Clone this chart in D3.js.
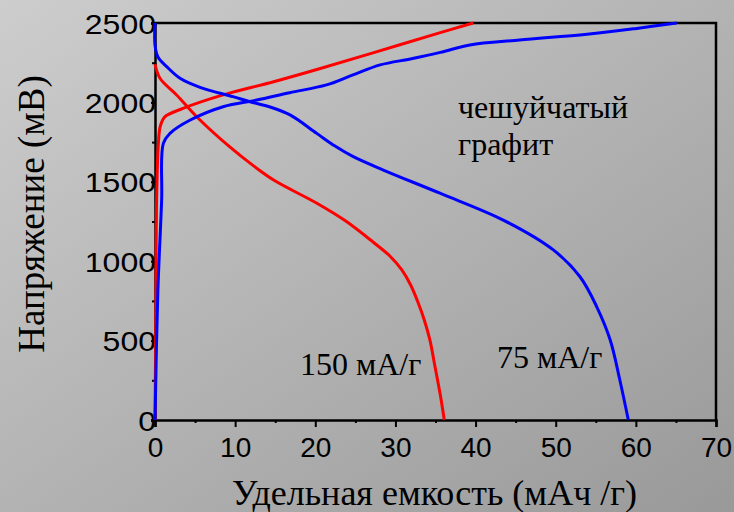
<!DOCTYPE html>
<html lang="ru">
 <head>
  <title>Удельная емкость - чешуйчатый графит</title>
<meta charset="utf-8">

<!-- Load d3.js -->
<script src="https://d3js.org/d3.v7.min.js"></script>

<style>
	body {
		margin: 0;
		font-family: 'Liberation Serif', 'Times New Roman', serif;
	}

	.tick text {
		font-family: 'Liberation Sans', Arial, sans-serif;
		font-size: 28px;
		fill: black;
	}

	.label {
		font-family: 'Liberation Serif', 'Times New Roman', serif;
		fill: black;
	}
</style>
</head>
<body>
<div id="my_dataviz"></div>

<script>

// capacity (mAh/g), voltage (mV)
var charge150 = [[0,0],[0.1,600],[0.2,1385],[0.42,1742],[0.66,1850],[1.25,1910],[3.5,1962],[8.5,2047],
	[14.8,2130],[20.2,2207],[27.2,2312],[35.6,2439],[39.7,2500]];
var discharge150 = [[0,2240],[0.62,2152],[2.7,2047],[5.2,1910],[9.3,1721],[12.3,1600],[14.8,1511],[20.2,1365],
	[23.8,1253],[27.2,1121],[29.3,1033],[30.8,945],[31.9,850],[32.8,743],[33.6,630],[34.3,504],[34.9,346],
	[35.6,157],[36.1,0]];
var charge75 = [[0,0],[0.35,800],[0.83,1385],[1.04,1742],[1.87,1805],[4.4,1889],[8.5,1973],[12.7,2015],
	[16.8,2061],[21.4,2110],[24.7,2173],[28.1,2236],[32,2275],[35.6,2315],[39.3,2362],[45.5,2393],
	[53.9,2429],[60.1,2466],[65.1,2500]];
var discharge75 = [[0,2500],[0,2361],[0.37,2286],[1.46,2225],[3.12,2152],[5.62,2095],[9.73,2036],[11.86,2004],
	[14.35,1971],[16.85,1921],[20.18,1805],[22.46,1725],[24.74,1658],[28.49,1574],[35.56,1428],[43.46,1259],
	[49.7,1071],[53.03,902],[55.12,713],[56.8,504],[58,252],[59.06,0]];

var xTicks = [0,10,20,30,40,50,60,70];
var xMinor = [5,15,25,35,45,55,65];
var yTicks = [0,500,1000,1500,2000,2500];
var yMinor = [250,750,1250,1750,2250];

var colours = { red : "#ff0000", blue : "#0000ff" };

// set the dimensions and margins of the graph
var margin = {top: 23, right: 18, bottom: 92, left: 155},
    W = 734, H = 512,
    width = W - margin.left - margin.right,
    height = H - margin.top - margin.bottom;

var root = d3.select("#my_dataviz")
  .append("svg")
    .attr("width", W)
    .attr("height", H);

// grey background, lighter top-left
var grad = root.append("defs").append("linearGradient")
	.attr("id", "bg")
	.attr("x1", "0%").attr("y1", "0%")
	.attr("x2", "100%").attr("y2", "100%");
grad.append("stop").attr("offset", "0%").attr("stop-color", "#cdcdcd");
grad.append("stop").attr("offset", "100%").attr("stop-color", "#999999");

root.append("rect")
	.attr("width", W)
	.attr("height", H)
	.attr("fill", "url(#bg)");

var svg = root.append("g")
	.attr("transform", "translate(" + margin.left + "," + margin.top + ")");

var x = d3.scaleLinear()
  .domain([0,70])
  .range([0, width]);

var y = d3.scaleLinear()
  .domain([0,2500])
  .range([height, 0]);

// X axis, major and minor ticks
svg.append("g")
  .attr("class", "xaxis")
  .attr("transform", "translate(0," + height + ")")
  .call(d3.axisBottom(x).tickValues(xTicks).tickSize(7).tickPadding(9).tickFormat(d3.format("d")))
  .call(function(g) {
	g.select(".domain").attr("stroke-width", 2.5);
	g.selectAll(".tick line").attr("stroke-width", 2);
	g.selectAll(".tick text").attr("dy", null).attr("y", 37);
  });

svg.append("g")
  .attr("transform", "translate(0," + height + ")")
  .call(d3.axisBottom(x).tickValues(xMinor).tickSize(3).tickFormat(""))
  .call(function(g) {
	g.select(".domain").remove();
	g.selectAll(".tick line").attr("stroke-width", 2);
  });

// Y axis, labels stretched sideways like the original
svg.append("g")
  .attr("class", "yaxis")
  .call(d3.axisLeft(y).tickValues(yTicks).tickSize(4).tickPadding(0).tickFormat(d3.format("d")))
  .call(function(g) {
	g.select(".domain").attr("stroke-width", 2.5);
	g.selectAll(".tick line").attr("stroke-width", 2);
	g.selectAll(".tick text")
	  .attr("x", 1)
	  .attr("dy", "0.36em")
	  .attr("textLength", function(d) { return String(d).length * 17.8; })
	  .attr("lengthAdjust", "spacingAndGlyphs");
  });

svg.append("g")
  .call(d3.axisLeft(y).tickValues(yMinor).tickSize(3).tickFormat(""))
  .call(function(g) {
	g.select(".domain").remove();
	g.selectAll(".tick line").attr("stroke-width", 2);
  });

// top and right frame
svg.append("path")
  .attr("d", d3.line()([[0,0],[width,0],[width,height]]))
  .attr("fill", "none")
  .attr("stroke", "black")
  .attr("stroke-width", 2.5);

var line = d3.line()
  .x(function(d) { return x(d[0]) })
  .y(function(d) { return y(d[1]) })
  .curve(d3.curveCatmullRom.alpha(0.5));

var series = [
	{ data: charge150, colour: colours.red },
	{ data: discharge150, colour: colours.red },
	{ data: charge75, colour: colours.blue },
	{ data: discharge75, colour: colours.blue }
];

svg.selectAll(".curve")
  .data(series)
  .enter()
  .append("path")
	.attr("class", "curve")
	.attr("d", function(d) { return line(d.data) })
	.attr("fill", "none")
	.attr("stroke", function(d) { return d.colour })
	.style("stroke-width", 3);

// annotations
root.append("text").attr("class", "label")
  .attr("x", 458).attr("y", 118)
  .style("font-size", "32px")
  .text("чешуйчатый");
root.append("text").attr("class", "label")
  .attr("x", 458).attr("y", 155)
  .style("font-size", "32px")
  .text("графит");
root.append("text").attr("class", "label")
  .attr("x", 300).attr("y", 375)
  .style("font-size", "32px")
  .text("150 мА/г");
root.append("text").attr("class", "label")
  .attr("x", 497).attr("y", 368)
  .style("font-size", "32px")
  .text("75 мА/г");

// axis titles
root.append("text").attr("class", "label")
  .attr("text-anchor", "middle")
  .attr("x", margin.left + width / 2 - 1)
  .attr("y", 505)
  .style("font-size", "36px")
  .text("Удельная емкость (мАч /г)");

root.append("text").attr("class", "label")
  .attr("text-anchor", "middle")
  .attr("transform", "translate(44,214) rotate(-90)")
  .style("font-size", "37px")
  .text("Напряжение (мВ)");

</script>
</body>
</html>
